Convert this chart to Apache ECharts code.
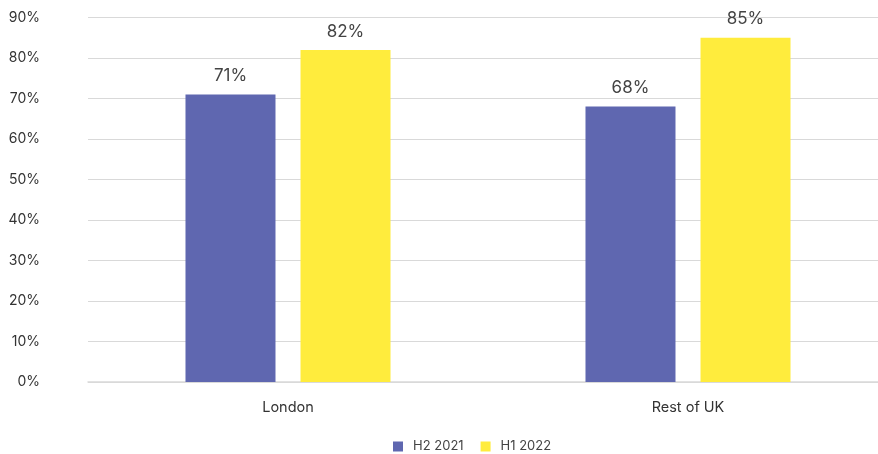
<!DOCTYPE html>
<html><head><meta charset="utf-8">
<script src="https://cdn.jsdelivr.net/npm/echarts@6/dist/echarts.min.js"></script>
<style>html,body{margin:0;padding:0;background:#fff;overflow:hidden}#c{width:878px;height:454px}</style>
</head><body><div id="c"></div>
<script>
const categories = ["London", "Rest of UK"];
const seriesNames = ["H2 2021", "H1 2022"];
const h2_2021 = [71, 68];
const h1_2022 = [82, 85];
const colors = ["#5f67b0", "#ffec3d"];
const font = "Inter, 'Noto Sans', sans-serif";
const chart = echarts.init(document.getElementById('c'));
chart.setOption({
  animation: false,
  textStyle: {fontFamily: font},
  grid: {left: 88, top: 17.5, right: -10, bottom: 72, containLabel: false, outerBoundsMode: 'none'},
  legend: {
    top: 435, left: 388, itemWidth: 10, itemHeight: 10, itemGap: 17,
    icon: 'rect',
    textStyle: {fontSize: 13, color: '#444', fontFamily: font, padding: [0, 0, 0, 5]},
    data: seriesNames
  },
  xAxis: {
    type: 'category', data: categories,
    axisLine: {lineStyle: {color: '#d9d9d9', width: 1.5}},
    axisTick: {show: false},
    axisLabel: {fontSize: 14.5, color: '#333', margin: 18, fontFamily: font}
  },
  yAxis: {
    type: 'value', min: 0, max: 90, interval: 10,
    axisLabel: {formatter: '{value}%', fontSize: 14, color: '#333', margin: 48, fontFamily: font},
    splitLine: {lineStyle: {color: '#d9d9d9', width: 1.2}},
    axisLine: {show: false}, axisTick: {show: false}
  },
  series: [
    {name: seriesNames[0], type: 'bar', data: h2_2021, barWidth: 90, barGap: '27.8%',
     itemStyle: {color: colors[0]},
     label: {show: true, position: 'top', formatter: '{c}%', fontSize: 17, color: '#444', distance: 10, fontFamily: font}},
    {name: seriesNames[1], type: 'bar', data: h1_2022, barWidth: 90,
     itemStyle: {color: colors[1]},
     label: {show: true, position: 'top', formatter: '{c}%', fontSize: 17, color: '#444', distance: 10, fontFamily: font}}
  ]
});
</script></body></html>
